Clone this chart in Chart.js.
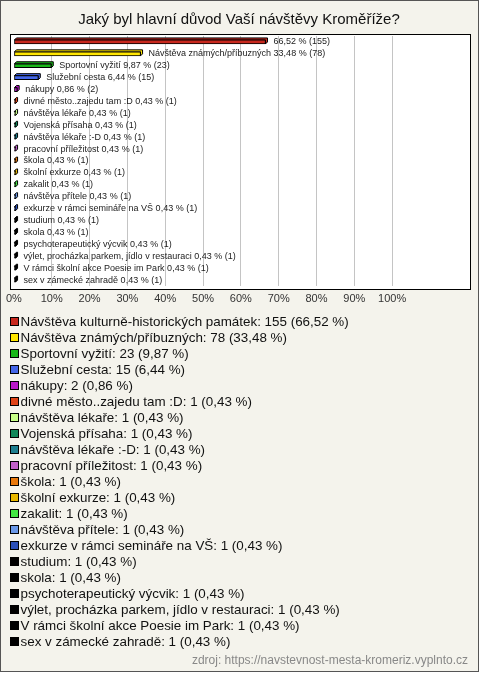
<!DOCTYPE html>
<html>
<head>
<meta charset="utf-8">
<script src="https://cdn.jsdelivr.net/npm/chart.js@4/dist/chart.umd.min.js"></script>
<style>
html,body{margin:0;padding:0;background:#fff;}
canvas{display:block;}
</style>
</head>
<body>
<canvas id="c" width="480" height="673"></canvas>
<script>
const chartTitle = 'Jaký byl hlavní důvod Vaší návštěvy Kroměříže?';
const sourceText = 'zdroj: https://navstevnost-mesta-kromeriz.vyplnto.cz';
const categories = [
  'Návštěva kulturně-historických památek',
  'Návštěva známých/příbuzných',
  'Sportovní vyžití',
  'Služební cesta',
  'nákupy',
  'divné město..zajedu tam :D',
  'návštěva lékaře',
  'Vojenská přísaha',
  'návštěva lékaře :-D',
  'pracovní příležitost',
  'škola',
  'školní exkurze',
  'zakalit',
  'návštěva přítele',
  'exkurze v rámci semináře na VŠ',
  'studium',
  'skola',
  'psychoterapeutický výcvik',
  'výlet, procházka parkem, jídlo v restauraci',
  'V rámci školní akce Poesie im Park',
  'sex v zámecké zahradě'
];
// bar labels as shown next to bars (first one shows no name in the original)
const barNames = ['', ...categories.slice(1)];
const counts = [155, 78, 23, 15, 2, 1, 1, 1, 1, 1, 1, 1, 1, 1, 1, 1, 1, 1, 1, 1, 1];
const percents = [66.52, 33.48, 9.87, 6.44, 0.86, 0.43, 0.43, 0.43, 0.43, 0.43, 0.43, 0.43, 0.43, 0.43, 0.43, 0.43, 0.43, 0.43, 0.43, 0.43, 0.43];
const colors = ['#c8281e', '#ffe600', '#18b818', '#4466e8', '#b818c8', '#e04418', '#c8ff88', '#10885a', '#1e7f90', '#c060c8', '#e8780c', '#e8b800', '#44e844', '#6a98e8', '#2c50b8', '#000000', '#000000', '#000000', '#000000', '#000000', '#000000'];
const xTicks = [0, 10, 20, 30, 40, 50, 60, 70, 80, 90, 100];

const FONT = '"Liberation Sans", Arial, sans-serif';
const fmt = v => v.toFixed(2).replace('.', ',');

const decor = {
  id: 'decor',
  beforeDraw(chart) {
    const ctx = chart.ctx;
    ctx.save();
    ctx.fillStyle = '#ffffff';
    ctx.fillRect(0, 0, 480, 673);
    ctx.fillStyle = '#f4f3ec';
    ctx.fillRect(0, 0, 479, 672);
    ctx.strokeStyle = '#555';
    ctx.lineWidth = 1;
    ctx.strokeRect(0.5, 0.5, 478, 671);
    ctx.fillStyle = '#ffffff';
    ctx.fillRect(10.5, 34.5, 460, 255);
    ctx.fillStyle = '#111';
    ctx.font = '15px ' + FONT;
    ctx.textAlign = 'center';
    ctx.textBaseline = 'middle';
    ctx.fillText(chartTitle, 239, 20);
    ctx.restore();
  },
  beforeDatasetsDraw(chart) {
    const ctx = chart.ctx;
    const meta = chart.getDatasetMeta(0);
    const d = 2;
    ctx.save();
    meta.data.forEach((el, i) => {
      const x0 = el.base, x1 = el.x;
      const y0 = el.y - el.height / 2, y1 = el.y + el.height / 2;
      ctx.beginPath();
      ctx.moveTo(x0, y0);
      ctx.lineTo(x0 + d, y0 - d);
      ctx.lineTo(x1 + d, y0 - d);
      ctx.lineTo(x1 + d, y1 - d);
      ctx.lineTo(x1, y1);
      ctx.lineTo(x1, y0);
      ctx.closePath();
      ctx.fillStyle = colors[i];
      ctx.fill();
      ctx.strokeStyle = '#000';
      ctx.lineWidth = 1;
      ctx.stroke();
    });
    ctx.restore();
  },
  afterDatasetsDraw(chart) {
    const ctx = chart.ctx;
    const meta = chart.getDatasetMeta(0);
    ctx.save();
    ctx.font = '9px ' + FONT;
    ctx.fillStyle = '#222';
    ctx.textAlign = 'left';
    ctx.textBaseline = 'middle';
    meta.data.forEach((el, i) => {
      const name = barNames[i];
      const txt = (name ? name + ' ' : '') + fmt(percents[i]) + ' % (' + counts[i] + ')';
      ctx.fillText(txt, el.x + 8, el.y);
    });
    ctx.strokeStyle = '#000';
    ctx.lineWidth = 1;
    ctx.strokeRect(10.5, 34.5, 460, 255);
    ctx.restore();
  },
  afterDraw(chart) {
    const ctx = chart.ctx;
    ctx.save();
    ctx.font = '13.4px ' + FONT;
    ctx.textBaseline = 'middle';
    ctx.textAlign = 'left';
    categories.forEach((name, i) => {
      const yc = 321 + i * 16;
      ctx.fillStyle = colors[i];
      ctx.fillRect(10.5, yc - 3.5, 8, 8);
      ctx.strokeStyle = '#000';
      ctx.lineWidth = 1;
      ctx.strokeRect(10.5, yc - 3.5, 8, 8);
      ctx.fillStyle = '#111';
      ctx.fillText(name + ': ' + counts[i] + ' (' + fmt(percents[i]) + ' %)', 20.5, yc + 1);
    });
    ctx.font = '12px ' + FONT;
    ctx.fillStyle = '#888';
    ctx.textAlign = 'right';
    ctx.fillText(sourceText, 468, 661);
    ctx.restore();
  }
};

new Chart(document.getElementById('c'), {
  type: 'bar',
  data: {
    labels: categories,
    datasets: [{
      data: percents,
      backgroundColor: colors,
      borderColor: '#000',
      borderWidth: 1,
      borderSkipped: false,
      barThickness: 4
    }]
  },
  options: {
    indexAxis: 'y',
    responsive: false,
    devicePixelRatio: 1,
    animation: false,
    layout: { padding: { left: 12, right: 10, top: 36, bottom: 357 } },
    plugins: { legend: { display: false }, title: { display: false }, tooltip: { enabled: false } },
    scales: {
      x: {
        type: 'linear',
        min: 0,
        max: 120.6,
        position: 'bottom',
        border: { display: false },
        grid: {
          drawTicks: false,
          color: c => (c.tick && c.tick.value === 0) ? 'rgba(0,0,0,0)' : '#c4c4c4'
        },
        afterBuildTicks: s => { s.ticks = xTicks.map(v => ({ value: v })); },
        afterFit: s => { s.height = 30; },
        ticks: {
          autoSkip: false,
          maxRotation: 0,
          padding: 6,
          color: '#333',
          font: { family: FONT, size: 11 },
          callback: v => v + '%'
        }
      },
      y: { type: 'category', display: false }
    }
  },
  plugins: [decor]
});
</script>
</body>
</html>
